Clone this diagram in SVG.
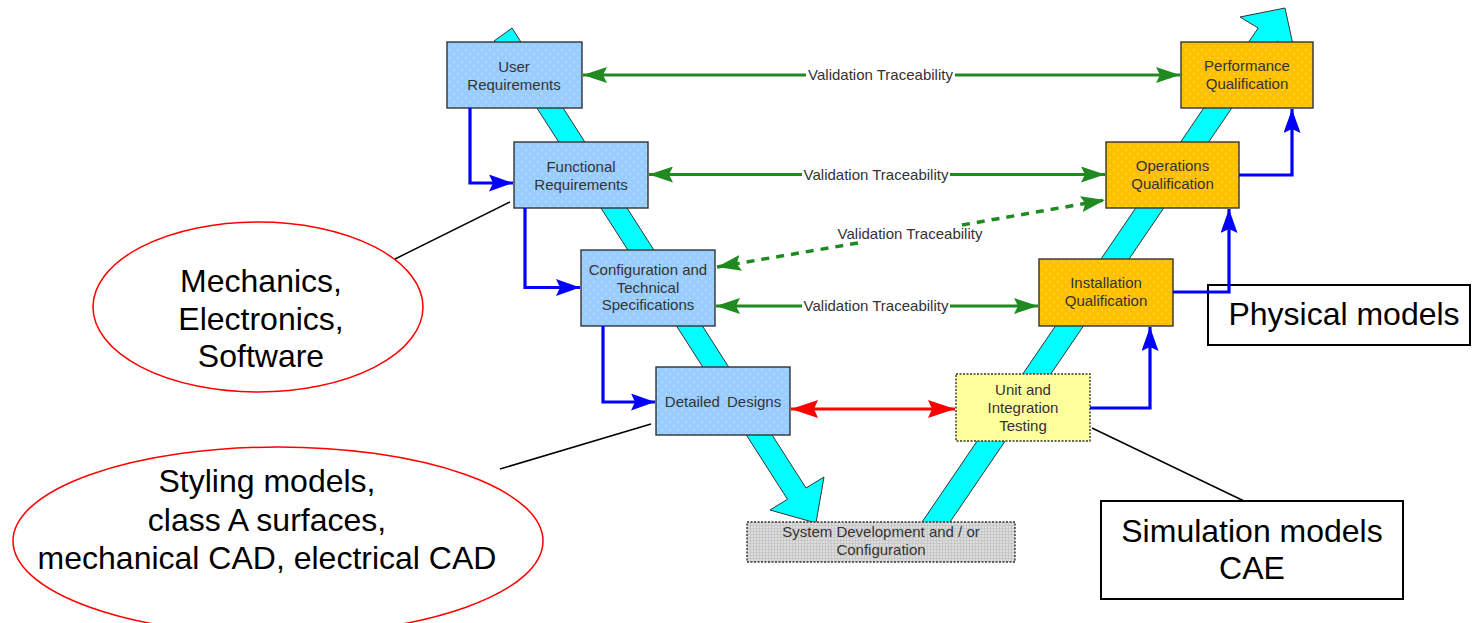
<svg xmlns="http://www.w3.org/2000/svg" width="1472" height="623" viewBox="0 0 1472 623">
<style>
.lbl{font-family:"Liberation Sans",Arial,sans-serif;font-size:15px;fill:#333;text-anchor:middle}
.big{font-family:"Liberation Sans",Arial,sans-serif;font-size:32px;fill:#000;text-anchor:middle}
.box{stroke:#333;stroke-width:1.4}
.dash{stroke-dasharray:2 1.5}
.band{fill:#00FFFF;stroke:#333;stroke-width:1}
.green{fill:none;stroke:#1f8a1f;stroke-width:3}
.gdash{fill:none;stroke:#1f8a1f;stroke-width:3.5;stroke-dasharray:8 7}
.blue{fill:none;stroke:#0000FF;stroke-width:3.2}
.red{fill:none;stroke:#FF0000;stroke-width:3.2}
.call{fill:none;stroke:#000;stroke-width:1.5}
.ell{fill:#fff;stroke:#FF0000;stroke-width:1.5}
.cbox{fill:#fff;stroke:#000;stroke-width:2}
</style>
<defs>
<pattern id="pBlue" width="8" height="8" patternUnits="userSpaceOnUse"><rect width="8" height="8" fill="#99CCFF"/><circle cx="2" cy="2" r="0.8" fill="#cde6ff"/><circle cx="6" cy="6" r="0.8" fill="#cde6ff"/></pattern>
<pattern id="pOrange" width="8" height="8" patternUnits="userSpaceOnUse"><rect width="8" height="8" fill="#FFC000"/><circle cx="2" cy="2" r="0.8" fill="#ffe070"/><circle cx="6" cy="6" r="0.8" fill="#ffe070"/></pattern>
<pattern id="pYellow" width="8" height="8" patternUnits="userSpaceOnUse"><rect width="8" height="8" fill="#FFFF99"/><circle cx="2" cy="2" r="0.8" fill="#ffffcc"/><circle cx="6" cy="6" r="0.8" fill="#ffffcc"/></pattern>
<pattern id="pGrey" width="3" height="3" patternUnits="userSpaceOnUse"><rect width="3" height="3" fill="#dcdcdc"/><path d="M0,0.5H3M0.5,0V3" stroke="#bdbdbd" stroke-width="0.6"/></pattern>
<marker id="mG" markerUnits="userSpaceOnUse" markerWidth="24" markerHeight="16" viewBox="0 0 24 16" refX="24" refY="8" orient="auto-start-reverse"><path d="M0,0 L24,8 L0,16 L4,8 z" fill="#1f8a1f"/></marker>
<marker id="mB" markerUnits="userSpaceOnUse" markerWidth="24" markerHeight="17" viewBox="0 0 24 17" refX="24" refY="8.5" orient="auto-start-reverse"><path d="M0,0 L24,8.5 L0,17 L4,8.5 z" fill="#0000FF"/></marker>
<marker id="mR" markerUnits="userSpaceOnUse" markerWidth="27" markerHeight="18" viewBox="0 0 27 18" refX="27" refY="9" orient="auto-start-reverse"><path d="M0,0 L27,9 L0,18 L4,9 z" fill="#FF0000"/></marker>
</defs>
<rect width="1472" height="623" fill="#fff"/>

<g id="v-band">
<polygon class="band" points="494,41 512,28 806,488 824,477 816,523 770,510 787.5,499.3"/>
<polygon class="band" points="903,550 931,550 1277.4,41 1294.8,52.8 1285,8 1240,17 1258.2,28"/>
</g>

<g id="user-requirements">
<rect class="box" x="447" y="42" width="135" height="66" fill="url(#pBlue)"/>
<text class="lbl" x="514" y="71.5">User</text>
<text class="lbl" x="514" y="89.5">Requirements</text>
</g>
<g id="functional-requirements">
<rect class="box" x="514" y="142" width="134" height="66" fill="url(#pBlue)"/>
<text class="lbl" x="581" y="171.5">Functional</text>
<text class="lbl" x="581" y="189.5">Requirements</text>
</g>
<g id="config-specs">
<rect class="box" x="581" y="250" width="134" height="76" fill="url(#pBlue)"/>
<text class="lbl" x="648" y="275">Configuration and</text>
<text class="lbl" x="648" y="292.5">Technical</text>
<text class="lbl" x="648" y="310">Specifications</text>
</g>
<g id="detailed-designs">
<rect class="box" x="656" y="367" width="134" height="68" fill="url(#pBlue)"/>
<text class="lbl" x="723" y="406.5" word-spacing="3">Detailed Designs</text>
</g>
<g id="system-development">
<rect class="box dash" x="747" y="522" width="268" height="40" fill="url(#pGrey)"/>
<text class="lbl" x="881" y="537">System Development and / or</text>
<text class="lbl" x="881" y="554.5">Configuration</text>
</g>
<g id="unit-integration-testing">
<rect class="box dash" x="956" y="374" width="134" height="67" fill="url(#pYellow)"/>
<text class="lbl" x="1023" y="394.5">Unit and</text>
<text class="lbl" x="1023" y="412.5">Integration</text>
<text class="lbl" x="1023" y="430.5">Testing</text>
</g>
<g id="installation-qualification">
<rect class="box" x="1039" y="259" width="134" height="67" fill="url(#pOrange)"/>
<text class="lbl" x="1106" y="288">Installation</text>
<text class="lbl" x="1106" y="305.5">Qualification</text>
</g>
<g id="operations-qualification">
<rect class="box" x="1106" y="142" width="133" height="66" fill="url(#pOrange)"/>
<text class="lbl" x="1172.5" y="170.5">Operations</text>
<text class="lbl" x="1172.5" y="188.5">Qualification</text>
</g>
<g id="performance-qualification">
<rect class="box" x="1181" y="42" width="132" height="66" fill="url(#pOrange)"/>
<text class="lbl" x="1247" y="71">Performance</text>
<text class="lbl" x="1247" y="89">Qualification</text>
</g>

<g id="note-mechanics">
<ellipse class="ell" cx="258" cy="307" rx="165" ry="85"/>
<text class="big" x="261" y="292">Mechanics,</text>
<text class="big" x="261" y="330">Electronics,</text>
<text class="big" x="261" y="367">Software</text>
</g>
<g id="note-styling">
<ellipse class="ell" cx="278" cy="541" rx="265" ry="94"/>
<text class="big" x="267" y="492">Styling models,</text>
<text class="big" x="267" y="530.5">class A surfaces,</text>
<text class="big" x="267" y="569">mechanical CAD, electrical CAD</text>
</g>
<g id="note-physical">
<rect class="cbox" x="1208" y="285" width="262" height="60"/>
<text class="big" x="1344" y="325">Physical models</text>
</g>
<g id="note-simulation">
<rect class="cbox" x="1101" y="501" width="302" height="98"/>
<text class="big" x="1252" y="541.5">Simulation models</text>
<text class="big" x="1252" y="578.5">CAE</text>
</g>

<g id="connectors">
<path class="blue" d="M470,108 V183 H513" marker-end="url(#mB)"/>
<path class="blue" d="M525,208 V287.5 H580" marker-end="url(#mB)"/>
<path class="blue" d="M603,326 V402 H655" marker-end="url(#mB)"/>
<path class="blue" d="M1090,408 H1150 V327" marker-end="url(#mB)"/>
<path class="blue" d="M1173,292 H1229 V209" marker-end="url(#mB)"/>
<path class="blue" d="M1239,175 H1292 V109" marker-end="url(#mB)"/>

<path class="green" d="M806,75 H583" marker-end="url(#mG)"/>
<path class="green" d="M955,75 H1180" marker-end="url(#mG)"/>
<text class="lbl" x="880.5" y="80">Validation Traceability</text>

<path class="green" d="M802,174.5 H649" marker-end="url(#mG)"/>
<path class="green" d="M950,174.5 H1105" marker-end="url(#mG)"/>
<text class="lbl" x="876" y="180">Validation Traceability</text>

<path class="gdash" d="M858,243 L717,267" marker-end="url(#mG)"/>
<path class="gdash" d="M962,225 L1105,200" marker-end="url(#mG)"/>
<text class="lbl" x="910" y="238.5">Validation Traceability</text>

<path class="green" d="M802,306 H716" marker-end="url(#mG)"/>
<path class="green" d="M950,306 H1038" marker-end="url(#mG)"/>
<text class="lbl" x="876" y="311">Validation Traceability</text>

<path class="red" d="M791,409 H955" marker-start="url(#mR)" marker-end="url(#mR)"/>

<line class="call" x1="510" y1="202" x2="395" y2="259"/>
<line class="call" x1="651" y1="424" x2="500" y2="469"/>
<line class="call" x1="1092" y1="428" x2="1244" y2="501"/>
</g>
</svg>
